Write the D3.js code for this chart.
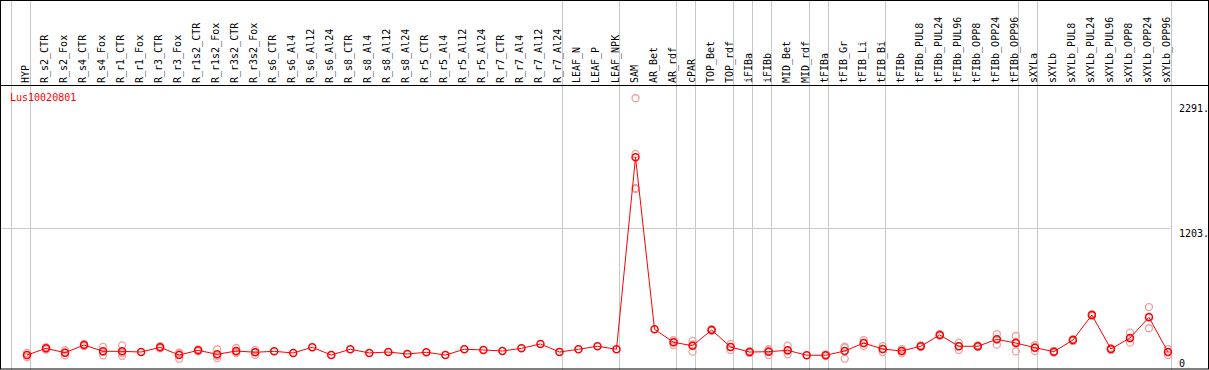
<!DOCTYPE html>
<html>
<head>
<meta charset="utf-8">
<script src="https://cdn.jsdelivr.net/npm/d3@7"></script>
<style>
  body { margin: 0; background: #fff; }
  text { font-family: "DejaVu Sans Mono", monospace; font-size: 10px; }
</style>
</head>
<body>
<div id="chart"></div>
<script>
var geneId = "Lus10020801";

var tissues = ["HYP", "R_s2_CTR", "R_s2_Fox", "R_s4_CTR", "R_s4_Fox", "R_r1_CTR", "R_r1_Fox",
  "R_r3_CTR", "R_r3_Fox", "R_r1s2_CTR", "R_r1s2_Fox", "R_r3s2_CTR", "R_r3s2_Fox", "R_s6_CTR",
  "R_s6_Al4", "R_s6_Al12", "R_s6_Al24", "R_s8_CTR", "R_s8_Al4", "R_s8_Al12", "R_s8_Al24",
  "R_r5_CTR", "R_r5_Al4", "R_r5_Al12", "R_r5_Al24", "R_r7_CTR", "R_r7_Al4", "R_r7_Al12",
  "R_r7_Al24", "LEAF_N", "LEAF_P", "LEAF_NPK", "SAM", "AR_Bet", "AR_rdf", "cPAR", "TOP_Bet",
  "TOP_rdf", "iFIBa", "iFIBb", "MID_Bet", "MID_rdf", "tFIBa", "tFIB_Gr", "tFIB_Li", "tFIB_Bi",
  "tFIBb", "tFIBb_PUL8", "tFIBb_PUL24", "tFIBb_PUL96", "tFIBb_OPP8", "tFIBb_OPP24",
  "tFIBb_OPP96", "sXYLa", "sXYLb", "sXYLb_PUL8", "sXYLb_PUL24", "sXYLb_PUL96", "sXYLb_OPP8",
  "sXYLb_OPP24", "sXYLb_OPP96"];

// mean expression per tissue
var means = [102, 160, 122, 189, 134, 134, 128, 169, 102, 143, 108, 137, 126, 134,
  120, 169, 102, 152, 120, 128, 111,
  126, 102, 152, 146, 137, 160, 198,
  128, 152, 178, 152, 1816, 325, 212, 183, 319,
  172, 128, 131, 143, 100, 100, 137, 206, 154,
  137, 178, 276, 178, 178, 238,
  206, 166, 131, 232, 449, 154, 250,
  429, 128];

// replicate values per tissue
var reps = [[85, 102, 120], [150, 160, 170], [100, 122, 145], [180, 189, 198], [172, 130, 100],
  [186, 120, 96], [], [160, 169, 178], [122, 114, 70], [135, 143, 151], [152, 96, 76],
  [163, 128, 120], [146, 130, 102], [], [],
  [], [], [], [], [], [],
  [], [], [], [], [], [], [],
  [], [], [], [], [2328, 1845, 1550, 1540], [], [232, 215, 189], [224, 194, 131], [311, 319, 327],
  [198, 172, 146], [120, 128, 136], [152, 139, 102], [183, 138, 108], [], [93, 100, 107],
  [174, 167, 70], [232, 206, 180], [180, 154, 128],
  [120, 137, 154], [170, 178, 186], [268, 276, 284], [209, 179, 146], [170, 178, 186], [284, 238, 192],
  [267, 217, 134], [189, 172, 137], [124, 131, 138], [224, 232, 240], [441, 449, 457], [146, 154, 162], [296, 245, 209],
  [518, 435, 334], [154, 128, 102]];

// number of tissues in each separated group
var groupSizes = [1, 28, 3, 3, 1, 2, 1, 1, 2, 1, 3, 7, 1, 7];

var tickValues = [0, 1203, 2291];
var tickLabels = ["0", "1203.", "2291."];

var width = 1209,
  height = 370,
  headerH = 85,
  plotRight = 1170.5;

var svg = d3.select("#chart").append("svg")
  .attr("width", width)
  .attr("height", height);

var x = d3.scaleBand()
  .domain(tissues)
  .range([10.5, plotRight]);

var y = d3.scaleLinear()
  .domain([0, 2291])
  .range([366.8, 102.5]);

// gray horizontal grid at the middle tick
svg.append("line")
  .attr("x1", 0).attr("x2", plotRight)
  .attr("y1", Math.round(y(1203)) + 0.5).attr("y2", Math.round(y(1203)) + 0.5)
  .attr("stroke", "#c8c8c8");

// group separators
var bounds = [0];
groupSizes.forEach(function (n) { bounds.push(bounds[bounds.length - 1] + n); });
svg.selectAll("line.sep")
  .data(bounds)
  .enter().append("line")
  .attr("class", "sep")
  .attr("x1", function (d) { return Math.round(x.range()[0] + d * x.bandwidth()) + 0.5; })
  .attr("x2", function (d) { return Math.round(x.range()[0] + d * x.bandwidth()) + 0.5; })
  .attr("y1", 0).attr("y2", height)
  .attr("stroke", "#c8c8c8");

// frame and header line
svg.append("rect")
  .attr("x", 0.5).attr("y", 0.5)
  .attr("width", width - 1).attr("height", height - 1.5)
  .attr("fill", "none").attr("stroke", "#000");
svg.append("line")
  .attr("x1", 0).attr("x2", width)
  .attr("y1", headerH + 0.5).attr("y2", headerH + 0.5)
  .attr("stroke", "#000");

// tissue labels, rotated
svg.selectAll("text.lab")
  .data(tissues)
  .enter().append("text")
  .attr("class", "lab")
  .attr("transform", function (d) { return "translate(" + (x(d) + 18.5) + "," + (headerH - 2) + ") rotate(-90)"; })
  .text(function (d) { return d; });

svg.append("text")
  .attr("x", 10).attr("y", 101)
  .attr("fill", "#ff0000")
  .text(geneId);

// right axis
var yAxis = svg.append("g")
  .attr("transform", "translate(1179,0)")
  .call(d3.axisRight(y).tickValues(tickValues).tickSize(0).tickPadding(0)
    .tickFormat(function (d, i) { return tickLabels[i]; }));
yAxis.select(".domain").remove();
yAxis.selectAll("text")
  .attr("dy", null)
  .attr("y", function (d) { return Math.min(8.5, 366 - y(d)); })
  .attr("fill", "#000")
  .style("font-family", "DejaVu Sans Mono, monospace")
  .style("font-size", "10px");

var px = function (i) { return x(tissues[i]) + 16.5; };

// replicate points
var repPts = [];
reps.forEach(function (r, i) { r.forEach(function (v) { repPts.push({ i: i, v: v }); }); });
svg.selectAll("circle.rep")
  .data(repPts)
  .enter().append("circle")
  .attr("class", "rep")
  .attr("cx", function (d) { return px(d.i); })
  .attr("cy", function (d) { return y(d.v); })
  .attr("r", 3.5)
  .attr("fill", "none")
  .attr("stroke", "#f0a0a0")
  .attr("stroke-width", 1.3);

// mean line
var line = d3.line()
  .x(function (d, i) { return px(i); })
  .y(function (d) { return y(d); });
svg.append("path")
  .datum(means)
  .attr("d", line)
  .attr("fill", "none")
  .attr("stroke", "#ff0000")
  .attr("stroke-width", 1);

svg.selectAll("circle.mean")
  .data(means)
  .enter().append("circle")
  .attr("class", "mean")
  .attr("cx", function (d, i) { return px(i); })
  .attr("cy", function (d) { return y(d); })
  .attr("r", 3.5)
  .attr("fill", "none")
  .attr("stroke", "#ff0000")
  .attr("stroke-width", 1.5);
</script>
</body>
</html>
